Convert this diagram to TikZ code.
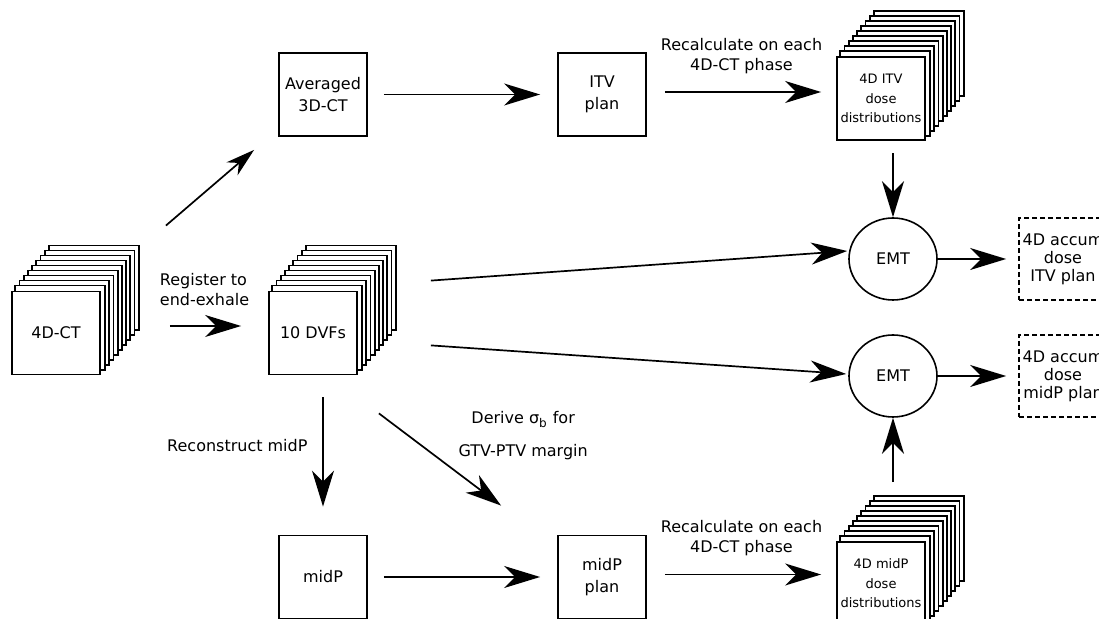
\documentclass[tikz,border=0pt]{standalone}
\usepackage{fontspec}
\setmainfont{DejaVu Sans}
\usetikzlibrary{positioning,arrows.meta,shapes.geometric,backgrounds}

\tikzset{
    box/.style={draw, line width=0.9pt, fill=white, minimum width=44pt, minimum height=41.5pt,
        inner sep=1pt, align=center, font=\fontsize{8}{10.8}\selectfont},
    dosebox/.style={font=\fontsize{6.5}{9.75}\selectfont},
    sheet/.style={draw, line width=0.9pt, fill=white},
    emt/.style={draw, ellipse, line width=0.8pt, minimum width=44pt, minimum height=41pt,
        inner sep=0pt, font=\fontsize{8}{10}\selectfont},
    accum/.style={draw, dash pattern=on 2.6pt off 1.4pt, line width=0.85pt, minimum width=44pt,
        minimum height=41pt, inner sep=0pt, align=center, font=\fontsize{8}{9}\selectfont},
    flow/.style={-{Stealth[length=18pt, width=11pt, inset=5.5pt]}, line width=0.85pt},
    smallflow/.style={-{Stealth[length=14.5pt, width=8.5pt, inset=4.5pt]}, line width=0.85pt},
    note/.style={font=\fontsize{8}{10}\selectfont}
}

\begin{document}
\begin{tikzpicture}[x=0.5pt, y=-0.5pt, on grid]

    \path[use as bounding box, clip] (0,0) rectangle (1099,619);

    \node[box] (avg) at (323,94.5) {Averaged\\3D-CT};
    \node[box] (itv) [right=139.5pt of avg] {ITV\\plan};
    \node[box, dosebox] (itvdose) [right=139.5pt of itv, yshift=-2pt] {4D ITV\\dose\\distributions};

    \node[box] (ct) at (56,333) {4D-CT};
    \node[box] (dvf) [right=128.5pt of ct] {10 DVFs};

    \node[box] (midp) at (323,577) {midP};
    \node[box] (midpplan) [right=139.5pt of midp] {midP\\plan};
    \node[box, dosebox] (midpdose) [right=139.5pt of midpplan, yshift=-3.25pt] {4D midP\\dose\\distributions};

    \node[emt] (emt1) at (893,259) {EMT};
    \node[emt] (emt2) [below=58.5pt of emt1] {EMT};
    \node[accum] (acc1) [right=85pt of emt1] {4D accum\\dose\\ITV plan};
    \node[accum] (acc2) [right=85pt of emt2] {4D accum\\dose\\midP plan};

    % phases behind the front sheet
    \begin{scope}[on background layer]
        \foreach \s in {ct, dvf, itvdose, midpdose}
            \foreach \k in {9,...,1}
                \draw[sheet] ([shift={(4.2*\k,-5*\k)}]\s.south west) rectangle ([shift={(4.2*\k,-5*\k)}]\s.north east);
    \end{scope}

    \draw[smallflow] ([shift={(65,-65)}]ct.north east) -- ([shift={(-24,13)}]avg.south west);
    \draw[flow, shorten <=8pt, shorten >=8.5pt] (avg) -- (itv);
    \draw[flow, shorten <=9pt, shorten >=7.5pt] ([yshift=1.25pt]itv.east) -- ([yshift=1.25pt]itv.east -| itvdose.west)
        node[note, midway, above=5.5pt, align=center] {Recalculate on each\\4D-CT phase};
    \draw[flow, shorten <=6.25pt] (itvdose.south -| emt1) -- (emt1);

    \draw[flow, shorten <=34.5pt, shorten >=13.5pt] ([yshift=3.5pt]ct.east) -- ([yshift=3.5pt]dvf.west)
        node[note, pos=0.62, above=6.5pt, align=left] {Register to\\end-exhale};
    \draw[flow] ([shift={(73,-10)}]dvf.north east) -- ([shift={(-1,-8)}]emt1.west);
    \draw[flow] ([shift={(73,-30)}]dvf.south east) -- ([shift={(-2,-2)}]emt2.west);
    \draw[flow, shorten >=6pt] (emt1) -- (acc1);
    \draw[flow, shorten >=6pt] (emt2) -- (acc2);

    \draw[flow, shorten <=11pt, shorten >=14pt] (dvf.south -| midp) -- (midp)
        node[note, pos=0.44, left=4pt] {Reconstruct midP};
    \draw[flow] ([shift={(21,38)}]dvf.south east) -- ([shift={(-56,-29)}]midpplan.north west)
        node[note, pos=0.59, anchor=south west, align=center] {Derive σ\textsubscript{b} for\\[6.5pt]GTV-PTV margin};
    \draw[flow, shorten <=8pt, shorten >=8.5pt] (midp) -- (midpplan);
    \draw[flow, shorten <=9pt, shorten >=7.5pt] ([yshift=1.25pt]midpplan.east) -- ([yshift=1.25pt]midpplan.east -| midpdose.west)
        node[note, midway, above=5.5pt, align=center] {Recalculate on each\\4D-CT phase};
    \draw[flow, shorten <=29.5pt] (midpdose.north -| emt2) -- (emt2);

\end{tikzpicture}
\end{document}
